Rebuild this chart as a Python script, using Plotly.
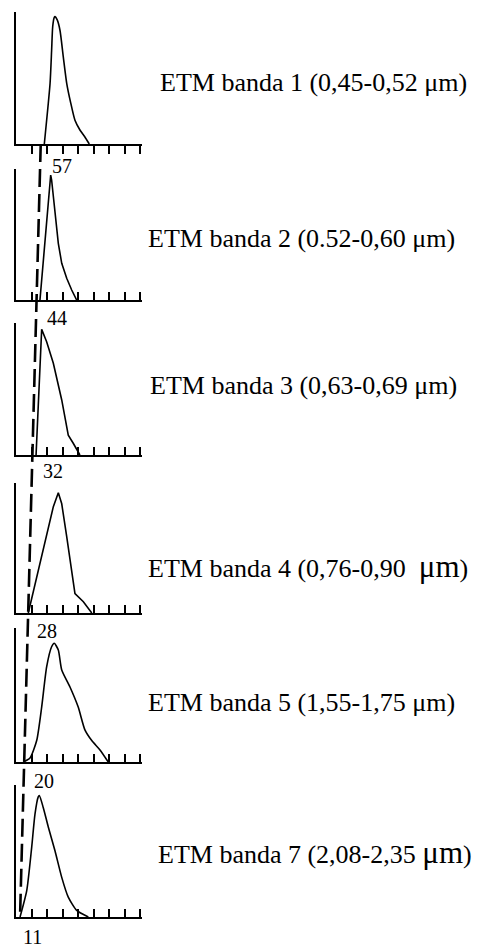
import plotly.graph_objects as go

W, H = 482, 949

# ---- data (histogram outlines, x in tick units, y = relative frequency) ----
band_labels = [
    "ETM banda 1 (0,45-0,52 μm)",
    "ETM banda 2 (0.52-0,60 μm)",
    "ETM banda 3 (0,63-0,69 μm)",
    "ETM banda 4 (0,76-0,90&nbsp; <span style='font-size:31px'>μm</span>)",
    "ETM banda 5 (1,55-1,75 μm)",
    "ETM banda 7 (2,08-2,35 <span style='font-size:31px'>μm</span>)",
]
min_dn = [57, 44, 32, 28, 20, 11]
min_pos = [1.59, 1.32, 1.05, 0.78, 0.52, 0.26]

b1_x = [1.82, 2.19, 2.29, 2.36, 2.46, 2.51, 2.65, 2.83, 3.04, 3.26, 3.52, 3.79, 4.11, 4.43, 4.71]
b1_y = [0, 0.46, 0.71, 0.89, 0.96, 0.965, 0.94, 0.86, 0.66, 0.46, 0.31, 0.18, 0.106, 0.053, 0]
b2_x = [1.54, 2.23, 2.29, 2.51, 2.72, 2.94, 3.26, 3.58, 3.90]
b2_y = [0, 0.954, 0.916, 0.662, 0.433, 0.28, 0.166, 0.076, 0]
b3_x = [1.29, 1.65, 1.97, 2.40, 2.94, 3.36, 3.68, 4.11]
b3_y = [0, 0.952, 0.858, 0.695, 0.417, 0.15, 0.089, 0]
b4_x = [0.79, 1.75, 2.40, 2.72, 2.94, 3.26, 3.58, 3.79, 4.33, 4.87]
b4_y = [0, 0.485, 0.818, 0.925, 0.84, 0.587, 0.33, 0.15, 0.087, 0]
b5_x = [0.47, 0.90, 1.33, 1.65, 1.97, 2.29, 2.46, 2.72, 2.94, 3.47, 4.00, 4.43, 4.87, 5.40, 5.93]
b5_y = [0, 0.03, 0.16, 0.41, 0.71, 0.86, 0.886, 0.836, 0.687, 0.56, 0.41, 0.24, 0.16, 0.09, 0]
b6_x = [0.26, 0.69, 1.01, 1.22, 1.43, 1.50, 1.75, 2.08, 2.51, 2.94, 3.36, 3.90, 4.65]
b6_y = [0, 0.2, 0.53, 0.78, 0.91, 0.92, 0.83, 0.68, 0.5, 0.3, 0.15, 0.05, 0]

tick_vals = [1, 2, 3, 4, 5, 6, 7, 8]

curves_x = [b1_x, b2_x, b3_x, b4_x, b5_x, b6_x]
curves_y = [b1_y, b2_y, b3_y, b4_y, b5_y, b6_y]

# ---- layout constants (pixels) ----
panel_top = [12, 169, 323, 483, 628, 785]
panel_base = [144, 300, 455, 613, 762, 917]
x_left, x_right = 16, 142
x_range = [0, 8.1]
shapes_line = ["spline", "linear", "linear", "linear", "spline", "spline"]
label_offsets = [(21, 22), (20.5, 18), (20.6, 16), (19, 18), (20, 19), (12.5, 20)]
text_left = [158, 146, 148, 146, 146, 156]
text_mid = [82, 238, 386, 566, 702, 852]

FONT = "Liberation Serif, Times New Roman, serif"

fig = go.Figure()
layout = {}
for i in range(6):
    xn = "x" if i == 0 else f"x{i+1}"
    yn = "y" if i == 0 else f"y{i+1}"
    fig.add_trace(go.Scatter(
        x=curves_x[i], y=curves_y[i], xaxis=xn, yaxis=yn, mode="lines",
        line=dict(color="black", width=1.6, shape=shapes_line[i], smoothing=0.6),
        hoverinfo="skip", showlegend=False, cliponaxis=False))
    layout["xaxis" if i == 0 else f"xaxis{i+1}"] = dict(
        domain=[x_left / W, x_right / W], range=x_range, anchor=yn,
        showline=True, linecolor="black", linewidth=1.6,
        ticks="outside" if i == 0 else "inside", tickvals=tick_vals,
        ticklen=8, tickwidth=1.6, tickcolor="black",
        showticklabels=False, showgrid=False, zeroline=False, fixedrange=True)
    layout["yaxis" if i == 0 else f"yaxis{i+1}"] = dict(
        domain=[1 - panel_base[i] / H, 1 - panel_top[i] / H], range=[0, 1],
        anchor=xn, showline=True, linecolor="black", linewidth=1.6,
        ticks="", showticklabels=False, showgrid=False, zeroline=False,
        fixedrange=True)

# overlay axis for the dashed minimum line (y in paper fraction)
base_paper = [1 - b / H for b in panel_base]
layout["xaxis7"] = dict(domain=[x_left / W, x_right / W], range=x_range,
                        anchor="y7", visible=False, fixedrange=True)
layout["yaxis7"] = dict(domain=[0, 1], range=[0, 1], anchor="x7",
                        visible=False, fixedrange=True)
fig.add_trace(go.Scatter(
    x=min_pos, y=base_paper, xaxis="x7", yaxis="y7", mode="lines",
    line=dict(color="black", width=2.6, dash="18px,7px"),
    hoverinfo="skip", showlegend=False))

annotations = []
for i in range(6):
    dx, dy = label_offsets[i]
    annotations.append(dict(
        x=min_pos[i], y=base_paper[i], xref="x7", yref="y7",
        text=str(min_dn[i]), showarrow=False, xanchor="center", yanchor="middle",
        xshift=dx, yshift=-dy, font=dict(family=FONT, size=20, color="black")))
    annotations.append(dict(
        x=text_left[i] / W, y=1 - text_mid[i] / H, xref="paper", yref="paper",
        text=band_labels[i], showarrow=False, xanchor="left", yanchor="middle",
        font=dict(family=FONT, size=26, color="black")))

fig.update_layout(
    width=W, height=H, margin=dict(l=0, r=0, t=0, b=0),
    paper_bgcolor="white", plot_bgcolor="rgba(0,0,0,0)",
    annotations=annotations, showlegend=False, **layout)

fig.write_html("out.html", config={"displayModeBar": False},
               post_script="document.body.style.margin='0';")
